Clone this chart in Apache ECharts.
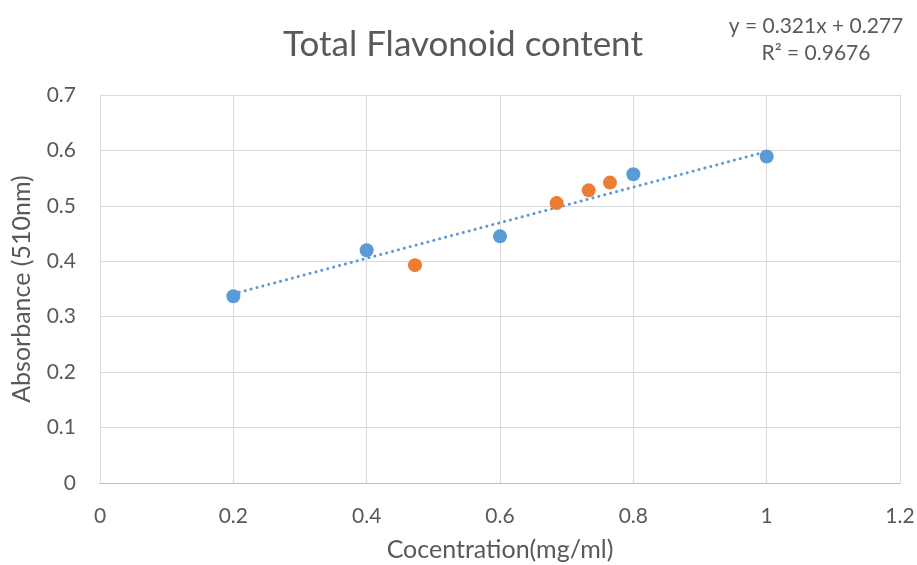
<!DOCTYPE html>
<html><head><meta charset="utf-8">
<script src="https://cdn.jsdelivr.net/npm/echarts@6/dist/echarts.min.js"></script>
<style>html,body{margin:0;padding:0;background:#fff}#c{width:917px;height:565px}</style>
</head><body><div id="c"></div>
<script>
var blueX = [0.2, 0.4, 0.6, 0.8, 1.0];
var blueY = [0.337, 0.420, 0.445, 0.557, 0.589];
var orangeX = [0.4725, 0.685, 0.733, 0.765];
var orangeY = [0.393, 0.505, 0.528, 0.542];
var slope = 0.321, intercept = 0.277;
var trendX = [0.2, 1.0];
var xTicks = [0, 0.2, 0.4, 0.6, 0.8, 1, 1.2];
var yTicks = [0, 0.1, 0.2, 0.3, 0.4, 0.5, 0.6, 0.7];

var F = 'Lato, "Noto Sans", sans-serif';
var gray = '#595959';
var chart = echarts.init(document.getElementById('c'));
chart.setOption({
  animation: false,
  textStyle: {fontFamily: F},
  title: [{
    text: 'Total Flavonoid content', left: 458, top: 22, textAlign: 'center',
    textStyle: {fontSize: 35, fontWeight: 'normal', color: gray, fontFamily: F}
  }, {
    text: 'y = 0.321x + 0.277\nR² = 0.9676', left: 811, top: 8, textAlign: 'center',
    textStyle: {fontSize: 21, fontWeight: 'normal', color: gray, lineHeight: 27, fontFamily: F}
  }],
  grid: {left: 100, right: 17, top: 95, bottom: 82, outerBoundsMode: 'none', containLabel: false},
  xAxis: {
    type: 'value', min: xTicks[0], max: xTicks[xTicks.length-1], interval: 0.2,
    name: 'Cocentration(mg/ml)', nameLocation: 'middle', nameGap: 54,
    nameTextStyle: {fontSize: 25, color: gray},
    axisLine: {show: true, lineStyle: {color: '#bfbfbf'}},
    axisTick: {show: false},
    axisLabel: {fontSize: 21, color: gray, margin: 23, formatter: function(v){return String(+v.toFixed(1));}},
    splitLine: {show: true, lineStyle: {color: '#d9d9d9'}}
  },
  yAxis: {
    type: 'value', min: yTicks[0], max: yTicks[yTicks.length-1], interval: 0.1,
    name: 'Absorbance (510nm)', nameLocation: 'middle', nameGap: 66,
    nameTextStyle: {fontSize: 25, color: gray},
    axisLine: {show: true, lineStyle: {color: '#d9d9d9'}},
    axisTick: {show: false},
    axisLabel: {fontSize: 21, color: gray, margin: 24, formatter: function(v){return String(+v.toFixed(1));}},
    splitLine: {show: true, lineStyle: {color: '#d9d9d9'}}
  },
  series: [{
    type: 'line', data: trendX.map(function(x){return [x, slope*x+intercept];}),
    symbol: 'none', silent: true, z: 1,
    lineStyle: {color: '#5b9bd5', width: 3, type: [0.1, 6], cap: 'round'}
  }, {
    type: 'scatter', data: blueX.map(function(x,i){return [x, blueY[i]];}),
    symbolSize: 14, itemStyle: {color: '#5b9bd5', opacity: 1}, z: 3
  }, {
    type: 'scatter', data: orangeX.map(function(x,i){return [x, orangeY[i]];}),
    symbolSize: 14, itemStyle: {color: '#ed7d31', opacity: 1}, z: 3
  }]
});
</script></body></html>
